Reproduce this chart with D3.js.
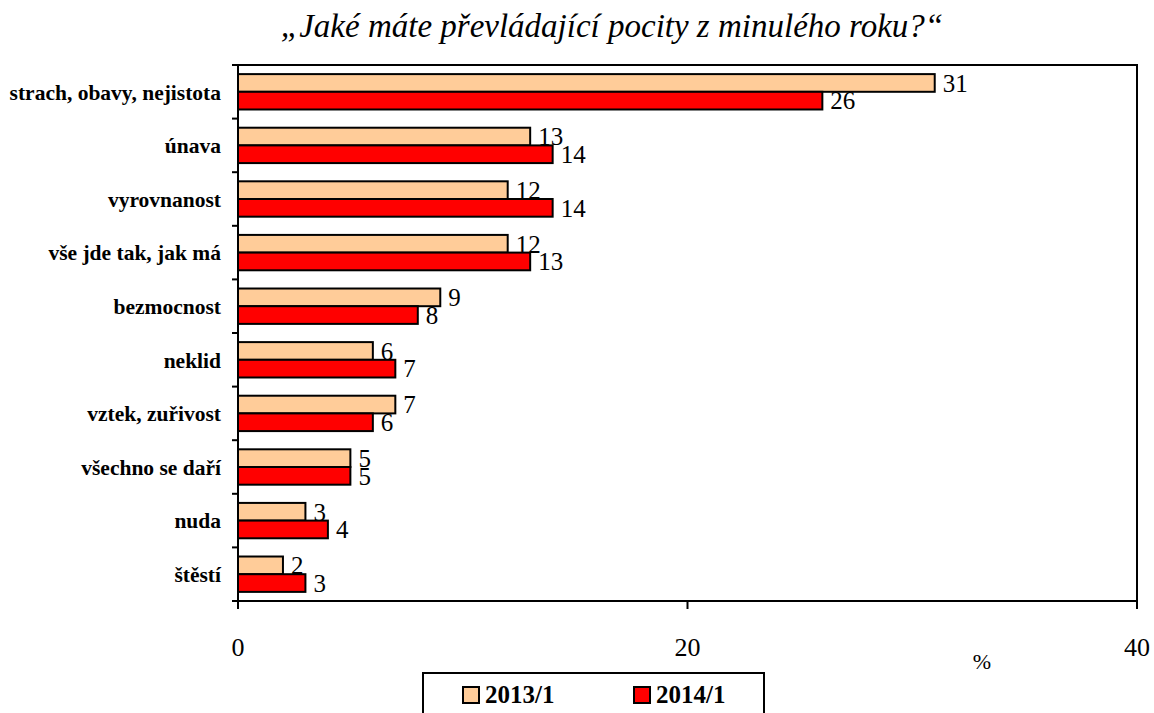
<!DOCTYPE html>
<html lang="cs">
<head>
<meta charset="UTF-8">
<title>Jaké máte převládající pocity z minulého roku?</title>
<script src="https://d3js.org/d3.v7.min.js"></script>
<style>
  body { margin: 0; background: #fff; }
  #chart text { font-family: 'Liberation Serif', 'DejaVu Serif', serif; fill: #000; }
  #chart .title { font-size: 33px; font-style: italic; }
  #chart .cat { font-size: 21.5px; font-weight: bold; }
  #chart .val { font-size: 25px; }
  #chart .tick-label { font-size: 26px; }
  #chart .legend-text { font-size: 25px; font-weight: bold; }
</style>
</head>
<body>
<svg id="chart" width="1154" height="713"></svg>
<script>
// data
const categories = ["strach, obavy, nejistota", "únava", "vyrovnanost", "vše jde tak, jak má",
  "bezmocnost", "neklid", "vztek, zuřivost", "všechno se daří", "nuda", "štěstí"];
const series2013 = [31, 13, 12, 12, 9, 6, 7, 5, 3, 2];
const series2014 = [26, 14, 14, 13, 8, 7, 6, 5, 4, 3];
const seriesNames = ["2013/1", "2014/1"];
const seriesColors = ["#FFCC99", "#FF0000"];
const xTicks = [0, 20, 40];

const svg = d3.select("#chart");
const plotLeft = 238, plotRight = 1137, plotTop = 65, plotBottom = 601;

const x = d3.scaleLinear().domain([0, 40]).range([plotLeft, plotRight]);
const y = d3.scaleBand().domain(categories).range([plotTop, plotBottom]).paddingInner(0.34).paddingOuter(0.17);
const sub = d3.scaleBand().domain(seriesNames).range([0, y.bandwidth()]);

// title
svg.append("text").attr("class", "title")
  .attr("x", 612).attr("y", 37).attr("text-anchor", "middle")
  .text("„Jaké máte převládající pocity z minulého roku?“");

// plot frame
svg.append("rect").attr("x", plotLeft).attr("y", plotTop)
  .attr("width", plotRight - plotLeft).attr("height", plotBottom - plotTop)
  .attr("fill", "none").attr("stroke", "#000").attr("stroke-width", 2);

// y ticks between categories
const step = (plotBottom - plotTop) / categories.length;
d3.range(categories.length + 1).forEach(i => {
  svg.append("line")
    .attr("x1", plotLeft - 6).attr("x2", plotLeft)
    .attr("y1", plotTop + i * step).attr("y2", plotTop + i * step)
    .attr("stroke", "#000").attr("stroke-width", 2);
});

// x axis ticks and labels
xTicks.forEach(t => {
  svg.append("line")
    .attr("x1", x(t)).attr("x2", x(t))
    .attr("y1", plotBottom).attr("y2", plotBottom + 8)
    .attr("stroke", "#000").attr("stroke-width", 2);
  svg.append("text").attr("class", "tick-label")
    .attr("x", x(t)).attr("y", 656).attr("text-anchor", "middle")
    .text(t);
});
svg.append("text").attr("class", "tick-label").style("font-size", "22px")
  .attr("x", 982).attr("y", 669).attr("text-anchor", "middle").text("%");

// category labels
svg.selectAll(".cat").data(categories).enter().append("text")
  .attr("class", "cat")
  .attr("x", 221)
  .attr("y", d => y(d) + y.bandwidth() / 2)
  .attr("dy", "0.36em")
  .attr("text-anchor", "end")
  .text(d => d);

// bars
const allSeries = [series2013, series2014];
allSeries.forEach((vals, si) => {
  const g = svg.append("g");
  g.selectAll("rect").data(vals).enter().append("rect")
    .attr("x", x(0))
    .attr("y", (d, i) => y(categories[i]) + sub(seriesNames[si]))
    .attr("width", d => x(d) - x(0))
    .attr("height", sub.bandwidth())
    .attr("fill", seriesColors[si])
    .attr("stroke", "#000").attr("stroke-width", 2);
  // label baseline sits on the bar's bottom edge
  g.selectAll("text").data(vals).enter().append("text")
    .attr("class", "val")
    .attr("x", d => x(d) + 8)
    .attr("y", (d, i) => y(categories[i]) + sub(seriesNames[si]) + sub.bandwidth())
    .text(d => d);
});

// redraw left axis over bars
svg.append("line").attr("x1", plotLeft).attr("x2", plotLeft).attr("y1", plotTop).attr("y2", plotBottom + 8)
  .attr("stroke", "#000").attr("stroke-width", 2);

// legend
const lg = svg.append("g");
lg.append("rect").attr("x", 423).attr("y", 673).attr("width", 341).attr("height", 60)
  .attr("fill", "#fff").attr("stroke", "#000").attr("stroke-width", 2);
const legendX = [463, 634];
seriesNames.forEach((n, i) => {
  lg.append("rect").attr("x", legendX[i]).attr("y", 687).attr("width", 16).attr("height", 16)
    .attr("fill", seriesColors[i]).attr("stroke", "#000").attr("stroke-width", 2);
  lg.append("text").attr("class", "legend-text")
    .attr("x", legendX[i] + 22).attr("y", 703).text(n);
});
</script>
</body>
</html>
